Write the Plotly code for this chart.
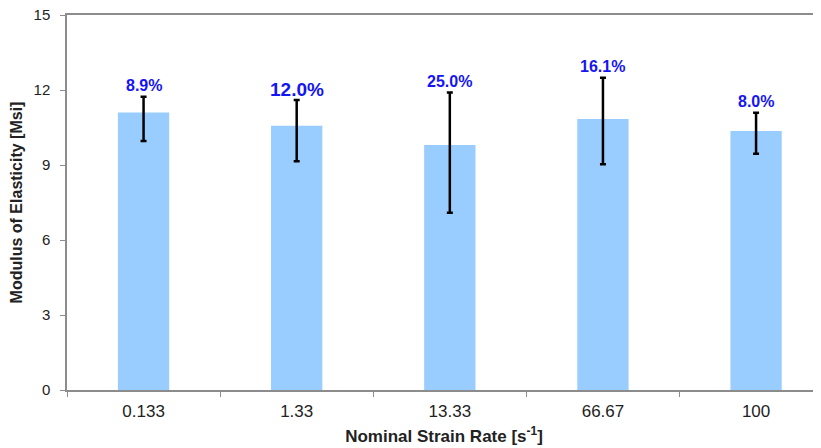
import plotly.graph_objects as go

categories = ["0.133", "1.33", "13.33", "66.67", "100"]
modulus = [11.10, 10.57, 9.80, 10.84, 10.36]
upper = [11.73, 11.60, 11.90, 12.49, 11.09]
lower = [9.96, 9.15, 7.09, 9.03, 9.45]
cov_labels = ["8.9%", "12.0%", "25.0%", "16.1%", "8.0%"]
label_sizes = [16, 19, 16, 16, 16]

err_plus = [u - m for u, m in zip(upper, modulus)]
err_minus = [m - l for m, l in zip(modulus, lower)]

fig = go.Figure()
fig.add_trace(go.Bar(
    x=categories, y=modulus,
    marker=dict(color="#99CCFF", line=dict(width=0)),
    error_y=dict(type="data", symmetric=False, array=err_plus, arrayminus=err_minus,
                 color="black", thickness=2.5, width=3),
    width=0.335,
))

for i, (u, t, s) in enumerate(zip(upper, cov_labels, label_sizes)):
    fig.add_annotation(x=i, y=u, xref="x", yref="y", text=f"<b>{t}</b>", showarrow=False,
                       yanchor="bottom", yshift=1 - (s - 16),
                       font=dict(family="Liberation Sans, Arial", size=s, color="#1414f5"))

fig.update_layout(
    width=821, height=448,
    margin=dict(l=59, r=8, t=7, b=66),
    paper_bgcolor="white", plot_bgcolor="white",
    showlegend=False,
    font=dict(family="Liberation Sans, Arial", size=15, color="#222222"),
)
fig.update_xaxes(
    type="category",
    range=[-0.5, 4.424], automargin=False,
    showline=True, linecolor="#8c8c8c", linewidth=1.5, mirror=True,
    ticks="outside", tickson="boundaries", ticklen=5, tickcolor="#8c8c8c",
    ticklabelstandoff=5,
    tickfont=dict(size=17),
    showgrid=False,
    title=dict(text="<b>Nominal Strain Rate [s<sup>-1</sup>]</b>", font=dict(size=17), standoff=10),
)
fig.update_yaxes(
    range=[0, 15], tickvals=[0, 3, 6, 9, 12, 15], automargin=False,
    showline=True, linecolor="#8c8c8c", linewidth=1.5,
    ticks="outside", ticklen=5, tickcolor="#8c8c8c",
    ticklabelstandoff=7, ticklabeloverflow="allow",
    showgrid=False, zeroline=False,
    title=dict(text="<b>Modulus of Elasticity [Msi]</b>", font=dict(size=16), standoff=8),
)

fig.write_html("out.html")
